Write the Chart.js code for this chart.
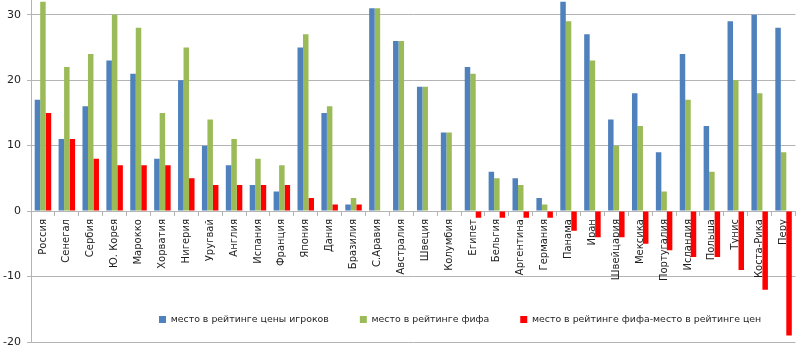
<!DOCTYPE html>
<html>
<head>
<meta charset="utf-8">
<script src="https://cdn.jsdelivr.net/npm/chart.js@4/dist/chart.umd.min.js"></script>
<style>
    html, body { margin: 0; padding: 0; background: #fff; }
    #wrap { width: 799px; height: 352px; }
</style>
</head>
<body>
<div id="wrap"><canvas id="rankChart" width="799" height="352"></canvas></div>
<script>
const teams = ['Россия', 'Сенегал', 'Сербия', 'Ю. Корея', 'Марокко', 'Хорватия', 'Нигерия', 'Уругвай',
    'Англия', 'Испания', 'Франция', 'Япония', 'Дания', 'Бразилия', 'С.Аравия', 'Австралия',
    'Швеция', 'Колумбия', 'Египет', 'Бельгия', 'Аргентина', 'Германия', 'Панама', 'Иран',
    'Швейцария', 'Мексика', 'Португалия', 'Исландия', 'Польша', 'Тунис', 'Коста-Рика', 'Перу'];
const priceRank = [17, 11, 16, 23, 21, 8, 20, 10, 7, 4, 3, 25, 15, 1, 31, 26,
    19, 12, 22, 6, 5, 2, 32, 27, 14, 18, 9, 24, 13, 29, 30, 28];
const fifaRank = [32, 22, 24, 30, 28, 15, 25, 14, 11, 8, 7, 27, 16, 2, 31, 26,
    19, 12, 21, 5, 4, 1, 29, 23, 10, 13, 3, 17, 6, 20, 18, 9];
const rankDiff = [15, 11, 8, 7, 7, 7, 5, 4, 4, 4, 4, 2, 1, 1, 0, 0,
    0, 0, -1, -1, -1, -1, -3, -4, -4, -5, -6, -7, -7, -9, -12, -19];
const yTicks = [-20, -10, 0, 10, 20, 30];

const gridColor = '#b4b4b4';
const textColor = '#1e1e1e';
const font = 'DejaVu Sans';

// legend sits inside the plot area, like in the Excel original
const legendInside = {
    id: 'legendInside',
    afterLayout(chart) {
        const lg = chart.legend;
        lg.left = 128;
        lg.right = 1000;
        lg.top = 283.8;
        lg.bottom = 340;
        lg.width = lg.right - lg.left;
        lg.height = lg.bottom - lg.top;
    }
};

const ctx = document.getElementById('rankChart').getContext('2d');
new Chart(ctx, {
    type: 'bar',
    data: {
        labels: teams,
        datasets: [
            { label: 'место в рейтинге цены игроков', data: priceRank, backgroundColor: '#4f81bd' },
            { label: 'место в рейтинге фифа', data: fifaRank, backgroundColor: '#9bbb59' },
            { label: 'место в рейтинге фифа-место в рейтинге цен', data: rankDiff, backgroundColor: '#ff0000' }
        ]
    },
    options: {
        responsive: false,
        animation: false,
        layout: { padding: { top: 0, right: 3.5, bottom: 0, left: 0 } },
        datasets: {
            bar: { barPercentage: 1.0, categoryPercentage: 0.69, borderWidth: 0 }
        },
        scales: {
            x: {
                position: { y: 0 },
                offset: true,
                grid: {
                    display: true,
                    offset: true,
                    drawOnChartArea: false,
                    drawTicks: true,
                    tickLength: 4,
                    color: gridColor
                },
                border: { display: true, color: gridColor },
                ticks: {
                    autoSkip: false,
                    minRotation: 90,
                    maxRotation: 90,
                    padding: 4,
                    color: textColor,
                    font: { family: font, size: 10 }
                },
                afterFit(scale) {
                    scale.paddingLeft = 0;
                    scale.paddingRight = 0;
                }
            },
            y: {
                min: -20,
                max: 32.25,
                afterBuildTicks(scale) {
                    scale.ticks = yTicks.map(v => ({ value: v }));
                },
                ticks: {
                    stepSize: 10,
                    includeBounds: false,
                    padding: 6,
                    color: textColor,
                    font: { family: font, size: 11 }
                },
                grid: { color: gridColor, tickLength: 4 },
                border: { color: gridColor },
                afterFit(scale) {
                    scale.width = 31;
                    scale.paddingTop = 0;
                    scale.paddingBottom = 0;
                }
            }
        },
        plugins: {
            legend: {
                position: 'bottom',
                align: 'start',
                maxHeight: 10,
                labels: {
                    boxWidth: 7,
                    boxHeight: 7,
                    padding: 31,
                    color: textColor,
                    font: { family: font, size: 9.4 }
                }
            },
            tooltip: { enabled: false }
        }
    },
    plugins: [legendInside]
});
</script>
</body>
</html>
